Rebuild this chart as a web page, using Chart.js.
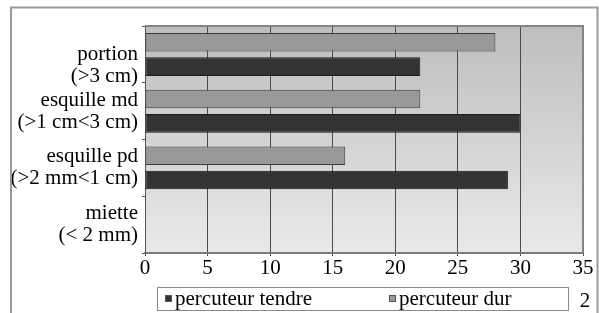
<!DOCTYPE html>
<html lang="fr">
<head>
  <meta charset="UTF-8">
  <title>Percuteur tendre / dur</title>
  <style>
    body {
      margin: 0;
      background: #ffffff;
    }
    #wrap {
      width: 599px;
      height: 313px;
    }
  </style>
</head>
<body>
  <div id="wrap">
    <canvas id="chart" width="599" height="313"></canvas>
  </div>

  <script src="https://cdn.jsdelivr.net/npm/chart.js@4.4.3/dist/chart.umd.min.js"></script>
  <script>
    // Data
    const categories = [
      ['portion', '(>3 cm)'],
      ['esquille md', '(>1 cm<3 cm)'],
      ['esquille pd', '(>2 mm<1 cm)'],
      ['miette', '(< 2 mm)']
    ];
    const seriesNames = ['percuteur tendre', 'percuteur dur'];
    const tendreValues = [22, 30, 29, 0];
    const durValues = [28, 22, 16, 0];
    const xTicks = [0, 5, 10, 15, 20, 25, 30, 35];

    const FONT = 'Liberation Serif, Times New Roman, serif';

    // plot background, borders, legend box, outer frame
    const decor = {
      id: 'decor',
      beforeDraw(chart) {
        const { ctx, chartArea: a } = chart;
        ctx.save();
        const g = ctx.createLinearGradient(0, a.top, 0, a.bottom);
        g.addColorStop(0, '#bebebe');
        g.addColorStop(1, '#e9e9e9');
        ctx.fillStyle = g;
        ctx.fillRect(a.left, a.top, a.right - a.left, a.bottom - a.top);
        ctx.restore();
      },
      afterDraw(chart) {
        const { ctx, chartArea: a } = chart;
        ctx.save();
        // plot top / right border
        ctx.strokeStyle = '#858585';
        ctx.lineWidth = 2;
        ctx.beginPath();
        ctx.moveTo(a.left, a.top);
        ctx.lineTo(a.right, a.top);
        ctx.lineTo(a.right, a.bottom);
        ctx.stroke();

        // outer frame
        ctx.strokeStyle = '#9a9a9a';
        ctx.lineWidth = 2;
        ctx.strokeRect(11, 7.5, 586.5, 330);

        // legend
        ctx.strokeStyle = '#8a8a8a';
        ctx.lineWidth = 1;
        ctx.strokeRect(157.5, 287.5, 411, 23);
        const ds = chart.data.datasets;
        const items = [
          { d: ds[1], x: 165 },
          { d: ds[0], x: 389 }
        ];
        ctx.font = '21px ' + FONT;
        ctx.textBaseline = 'middle';
        ctx.textAlign = 'left';
        items.forEach(it => {
          ctx.fillStyle = it.d.backgroundColor;
          ctx.fillRect(it.x, 295, 7, 7);
          ctx.strokeStyle = '#555';
          ctx.strokeRect(it.x + 0.5, 295.5, 6, 6);
          ctx.fillStyle = '#000';
          ctx.fillText(it.d.label, it.x + 10, 299);
        });

        // stray page number at bottom right
        ctx.textAlign = 'center';
        ctx.fillText('2', 585, 301);
        ctx.restore();
      }
    };

    const ctx = document.getElementById('chart').getContext('2d');
    new Chart(ctx, {
      type: 'bar',
      data: {
        labels: categories,
        datasets: [
          {
            label: seriesNames[1],
            data: durValues,
            backgroundColor: '#999999',
            borderColor: '#3a3a3a',
            borderWidth: 1,
            borderSkipped: false
          },
          {
            label: seriesNames[0],
            data: tendreValues,
            backgroundColor: '#333333',
            borderColor: '#1a1a1a',
            borderWidth: 1,
            borderSkipped: false
          }
        ]
      },
      options: {
        indexAxis: 'y',
        responsive: false,
        animation: false,
        barPercentage: 0.76,
        categoryPercentage: 0.86,
        layout: {
          padding: { left: 0, top: 24, right: 16, bottom: 32 }
        },
        scales: {
          x: {
            min: 0,
            max: 35,
            afterBuildTicks: (scale) => {
              scale.ticks = xTicks.map(v => ({ value: v }));
            },
            afterFit: (scale) => { scale.height = 28; },
            ticks: {
              color: '#000',
              padding: 0,
              font: { family: FONT, size: 21 }
            },
            grid: {
              color: '#4a4a4a',
              lineWidth: 1,
              tickLength: 3,
              tickColor: '#4a4a4a'
            },
            border: { color: '#7a7a7a', width: 2 }
          },
          y: {
            afterFit: (scale) => { scale.width = 145; },
            ticks: {
              color: '#000',
              padding: 4,
              autoSkip: false,
              font: { family: FONT, size: 21, lineHeight: 1.05 },
              // the top label sits lower in the original, pushed off the top edge
              callback: function (value, index) {
                const lbl = this.getLabelForValue(value);
                return index === 0 ? [''].concat(lbl) : lbl;
              }
            },
            grid: {
              drawOnChartArea: false,
              tickLength: 3,
              tickColor: '#555'
            },
            border: { color: '#555', width: 1 }
          }
        },
        plugins: {
          legend: { display: false },
          tooltip: { enabled: false }
        }
      },
      plugins: [decor]
    });
  </script>
</body>
</html>
